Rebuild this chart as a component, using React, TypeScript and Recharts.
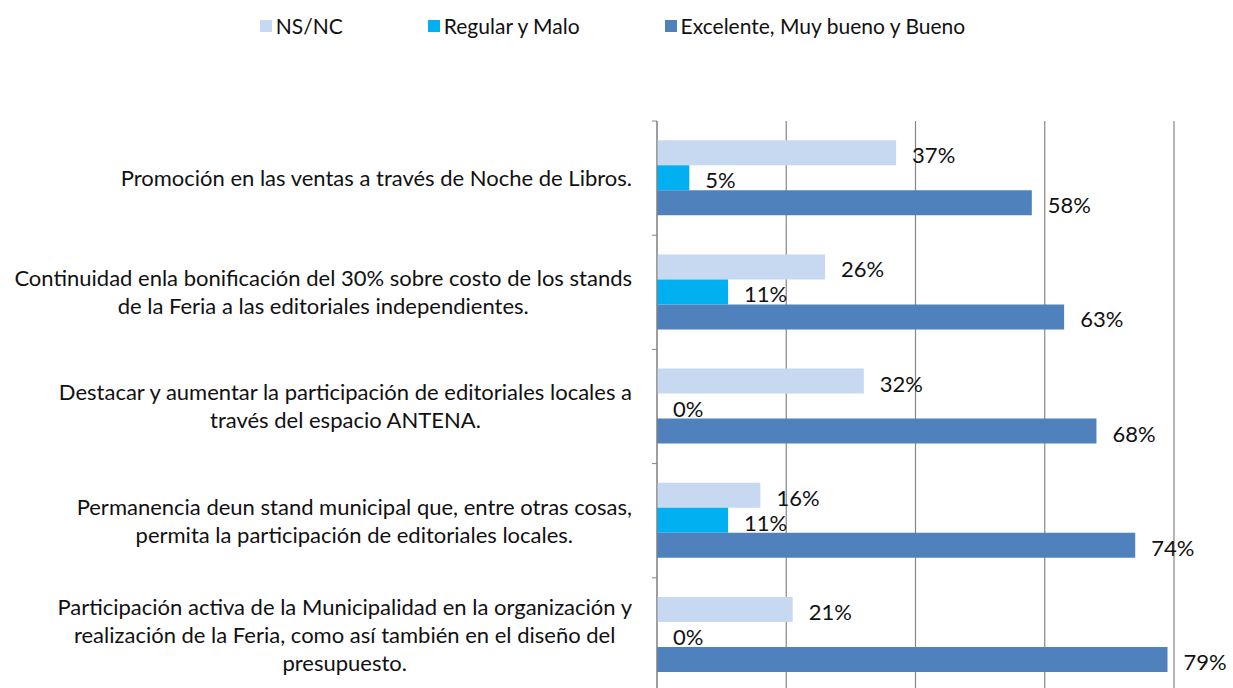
import React from 'react';
import { BarChart, Bar, XAxis, YAxis, CartesianGrid, LabelList } from 'recharts';

const categories = [
  'Promoción en las ventas a través de Noche de Libros.',
  'Continuidad enla bonificación del 30% sobre costo de los stands\nde la Feria a las editoriales independientes.',
  'Destacar y aumentar la participación de editoriales locales a\ntravés del espacio ANTENA.',
  'Permanencia deun stand municipal que, entre otras cosas,\npermita la participación de editoriales locales.',
  'Participación activa de la Municipalidad en la organización y\nrealización de la Feria, como así también en el diseño del\npresupuesto.',
];
const nsnc = [37, 26, 32, 16, 21];
const regularMalo = [5, 11, 0, 11, 0];
const excelente = [58, 63, 68, 74, 79];
const xTicks = [0, 20, 40, 60, 80];

const series = [
  { key: 'nsnc', name: 'NS/NC', color: '#C6D9F1' },
  { key: 'regular', name: 'Regular y Malo', color: '#00B0F0' },
  { key: 'excelente', name: 'Excelente, Muy bueno y Bueno', color: '#4F81BD' },
];

const data = categories.map((name, i) => ({
  name,
  nsnc: nsnc[i],
  regular: regularMalo[i],
  excelente: excelente[i],
}));

const FONT = 'Lato, "Open Sans", sans-serif';
const W = 1233;
const H = 720;
const TOP = 121;
const LEFT = 17;
const Y_W = 640;
const X_H = 20;
const BOTTOM = 8;
const AXIS_X = LEFT + Y_W;
const BAND = (H - TOP - X_H - BOTTOM) / categories.length;
const GRID = '#868686';

const CategoryTick = (props: any) => {
  const { y, payload, index } = props;
  const lines = String(payload.value).split('\n');
  return (
    <g>
      <line x1={AXIS_X - 5} x2={AXIS_X} y1={y - BAND / 2} y2={y - BAND / 2} stroke={GRID} />
      {index === categories.length - 1 && (
        <line x1={AXIS_X - 5} x2={AXIS_X} y1={y + BAND / 2} y2={y + BAND / 2} stroke={GRID} />
      )}
      <foreignObject x={0} y={y - BAND / 2} width={AXIS_X - 25} height={BAND}>
        <div
          style={{
            display: 'flex',
            justifyContent: 'flex-end',
            alignItems: 'center',
            height: '100%',
            fontFamily: FONT,
            fontSize: 22,
            color: '#111',
          }}
        >
          <div style={{ textAlign: 'center', lineHeight: '28px', whiteSpace: 'nowrap' }}>
            {lines.map((l, i) => (
              <div key={i}>{l}</div>
            ))}
          </div>
        </div>
      </foreignObject>
    </g>
  );
};

// value labels drawn by hand so 0% still shows beside an empty bar
const ValueLabel = (props: any) => {
  const { x, y, width, height, value } = props;
  if (value == null) return null;
  return (
    <text
      x={Number(x) + Number(width || 0) + 16}
      y={Number(y) + Number(height) / 2 + 2}
      dominantBaseline="central"
      fontFamily={FONT}
      fontSize={22}
      fill="#111"
    >
      {`${value}%`}
    </text>
  );
};

const NoTick = () => <g />;

export default function App() {
  return (
    <div style={{ position: 'absolute', left: 0, top: 0, width: W, height: 688, overflow: 'hidden', background: '#fff' }}>
      <div
        style={{
          position: 'absolute',
          top: 13,
          left: 0,
          width: W - 8,
          display: 'flex',
          justifyContent: 'center',
          fontFamily: FONT,
          fontSize: 21,
          color: '#111',
        }}
      >
        {series.map((s, i) => (
          <div key={s.key} style={{ display: 'flex', alignItems: 'center', marginLeft: i ? 85 : 0 }}>
            <span style={{ width: 12, height: 12, background: s.color, display: 'inline-block', marginRight: 4 }} />
            <span>{s.name}</span>
          </div>
        ))}
      </div>
      <BarChart
        width={W}
        height={H}
        data={data}
        layout="vertical"
        margin={{ top: TOP, right: 59, left: LEFT, bottom: BOTTOM }}
        barCategoryGap="16.8%"
        barGap={0}
      >
        <CartesianGrid horizontal={false} stroke={GRID} strokeWidth={1.2} />
        <XAxis
          type="number"
          domain={[0, 80]}
          ticks={xTicks}
          tickLine={false}
          tick={<NoTick />}
          height={X_H}
          stroke={GRID}
        />
        <YAxis
          type="category"
          dataKey="name"
          width={Y_W}
          tickLine={false}
          stroke={GRID}
          tick={<CategoryTick />}
          interval={0}
        />
        {series.map((s) => (
          <Bar
            key={s.key}
            dataKey={s.key}
            name={s.name}
            fill={s.color}
            minPointSize={0.01}
            isAnimationActive={false}
          >
            <LabelList dataKey={s.key} content={<ValueLabel />} />
          </Bar>
        ))}
      </BarChart>
    </div>
  );
}
